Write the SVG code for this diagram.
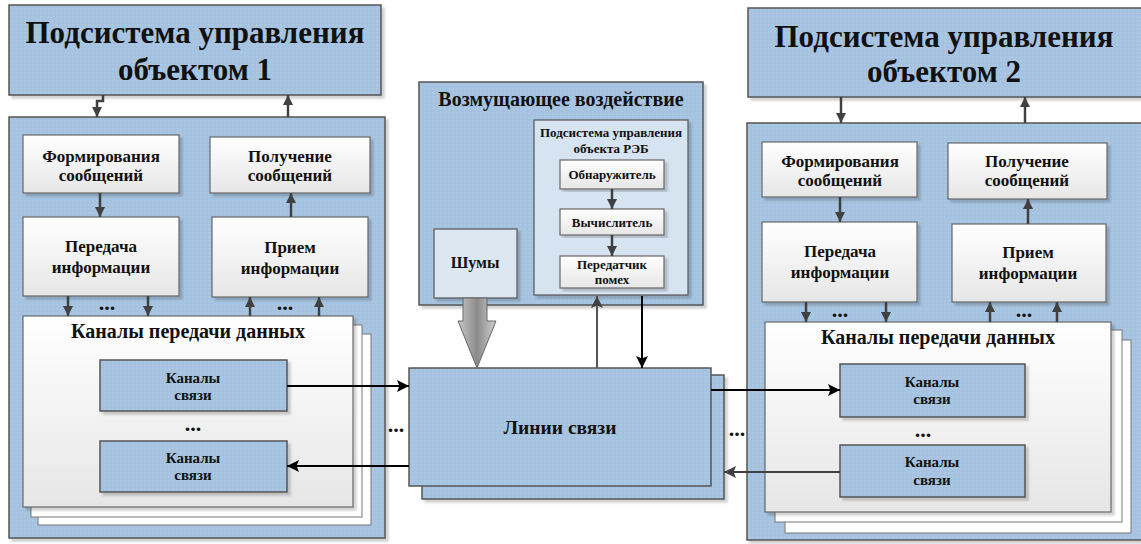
<svg xmlns="http://www.w3.org/2000/svg" width="1141" height="544" viewBox="0 0 1141 544">
<defs>
<filter id="sh" x="-5%" y="-5%" width="115%" height="115%">
<feDropShadow dx="3" dy="3" stdDeviation="1" flood-color="#000" flood-opacity="0.18"/>
</filter>
<linearGradient id="wg" x1="0" y1="0" x2="0" y2="1">
<stop offset="0" stop-color="#ffffff"/>
<stop offset="1" stop-color="#e6e6e6"/>
</linearGradient>
<linearGradient id="ga" x1="0" y1="0" x2="1" y2="0">
<stop offset="0" stop-color="#c8c8c8"/>
<stop offset="0.5" stop-color="#8a8a8a"/>
<stop offset="1" stop-color="#d0d0d0"/>
</linearGradient>
<pattern id="dots" width="4" height="4" patternUnits="userSpaceOnUse">
<rect width="4" height="4" fill="#a5c3e0"/>
<circle cx="1" cy="1" r="0.8" fill="#b3cde6"/>
</pattern>
<marker id="ag" viewBox="0 0 10 10" refX="10" refY="5" markerWidth="10" markerHeight="10" markerUnits="userSpaceOnUse" orient="auto">
<path d="M0,0 L10,5 L0,10 Z" fill="#404040"/>
</marker>
<marker id="ab" viewBox="0 0 10 10" refX="10" refY="5" markerWidth="13" markerHeight="12" markerUnits="userSpaceOnUse" orient="auto">
<path d="M0,0 L10,5 L0,10 L2,5 Z" fill="#000"/>
</marker>
<marker id="ab2" viewBox="0 0 10 10" refX="10" refY="5" markerWidth="13" markerHeight="12" markerUnits="userSpaceOnUse" orient="auto">
<path d="M0,0 L10,5 L0,10 L2,5 Z" fill="#404040"/>
</marker>
</defs>
<style>
.blue{fill:url(#dots);stroke:#555;stroke-width:1.5}
.white{fill:url(#wg);stroke:#666;stroke-width:1.2}
.plain{fill:#fff;stroke:#777;stroke-width:1}
.light{fill:#d6e3f0;stroke:#555;stroke-width:1.2}
.lighter{fill:#dce7f2;stroke:#555;stroke-width:1.2}
text{font-family:"Liberation Serif","Times New Roman",serif;font-weight:bold;fill:#111;text-anchor:middle}
.t30{font-size:31px}
.t18{font-size:20px}
.t19{font-size:19.5px}
.t17{font-size:20px}
.t15{font-size:17px}
.t16{font-size:16px}
.t13{font-size:15px}
.t12{font-size:13px}
.dot{font-size:22px}
.cg{stroke:#404040;stroke-width:2.5;fill:none}
.cb{stroke:#000;stroke-width:2;fill:none}
</style>

<g id="sys1-head">
<rect x="9" y="5" width="372" height="90" class="blue" filter="url(#sh)"/>
<text class="t30" x="195" y="43">Подсистема управления</text>
<text class="t30" x="195" y="80">объектом 1</text>
</g>

<g id="sys1">
<rect x="9" y="117" width="376" height="421" class="blue" filter="url(#sh)"/>
</g>
<g id="form1">
<rect x="23" y="135" width="156" height="58" class="white" filter="url(#sh)"/>
<text class="t15" x="101" y="162">Формирования</text>
<text class="t15" x="101" y="181">сообщений</text>
</g>
<g id="recv1">
<rect x="210" y="137" width="160" height="56" class="white" filter="url(#sh)"/>
<text class="t15" x="290" y="162">Получение</text>
<text class="t15" x="290" y="181">сообщений</text>
</g>
<g id="tx1">
<rect x="23" y="217" width="156" height="79" class="white" filter="url(#sh)"/>
<text class="t15" x="101" y="252">Передача</text>
<text class="t15" x="101" y="273">информации</text>
</g>
<g id="rx1">
<rect x="212" y="217" width="156" height="80" class="white" filter="url(#sh)"/>
<text class="t15" x="290" y="253">Прием</text>
<text class="t15" x="290" y="274">информации</text>
</g>
<g id="chan1">
<rect x="38" y="334" width="333" height="191" class="plain"/>
<rect x="31" y="325" width="331" height="192" class="plain"/>
<rect x="23" y="316" width="330" height="191" class="white" filter="url(#sh)"/>
<text class="t18" x="188" y="338">Каналы передачи данных</text>
</g>
<g id="link1a">
<rect x="100" y="360" width="187" height="51" class="blue" filter="url(#sh)"/>
<text class="t13" x="193" y="383">Каналы</text>
<text class="t13" x="193" y="400">связи</text>
</g>
<g id="link1b">
<rect x="100" y="441" width="187" height="51" class="blue" filter="url(#sh)"/>
<text class="t13" x="193" y="463">Каналы</text>
<text class="t13" x="193" y="480">связи</text>
</g>
<text class="dot" x="107" y="310">...</text>
<text class="dot" x="285" y="310">...</text>
<text class="dot" x="193" y="431">...</text>

<g id="dist">
<rect x="419" y="82" width="284" height="223" class="blue" filter="url(#sh)"/>
<text class="t17" x="561" y="106">Возмущающее воздействие</text>
</g>
<g id="noise">
<rect x="434" y="229" width="83" height="69" class="lighter" filter="url(#sh)"/>
<text class="t16" x="475" y="268">Шумы</text>
</g>
<g id="reb">
<rect x="534" y="120" width="154" height="175" class="light" filter="url(#sh)"/>
<text class="t12" x="611" y="137">Подсистема управления</text>
<text class="t12" x="611" y="153">объекта РЭБ</text>
</g>
<g id="det">
<rect x="560" y="160" width="104" height="29" class="white" filter="url(#sh)"/>
<text class="t12" x="612" y="179">Обнаружитель</text>
</g>
<g id="calc">
<rect x="560" y="209" width="104" height="26" class="white" filter="url(#sh)"/>
<text class="t12" x="612" y="227">Вычислитель</text>
</g>
<g id="jam">
<rect x="560" y="256" width="104" height="32" class="white" filter="url(#sh)"/>
<text class="t12" x="612" y="269">Передатчик</text>
<text class="t12" x="612" y="284">помех</text>
</g>

<g id="lines">
<rect x="422" y="375" width="302" height="124" class="blue" filter="url(#sh)"/>
<rect x="409" y="368" width="302" height="118" class="blue"/>
<text class="t19" x="560" y="434">Линии связи</text>
</g>
<text class="dot" x="396" y="432">...</text>
<text class="dot" x="737" y="436">...</text>

<g id="sys2-head">
<rect x="748" y="8" width="400" height="89" class="blue" filter="url(#sh)"/>
<text class="t30" x="944" y="47">Подсистема управления</text>
<text class="t30" x="944" y="82">объектом 2</text>
</g>
<g id="sys2">
<rect x="747" y="123" width="400" height="417" class="blue" filter="url(#sh)"/>
</g>
<g id="form2">
<rect x="762" y="142" width="155" height="55" class="white" filter="url(#sh)"/>
<text class="t15" x="840" y="167">Формирования</text>
<text class="t15" x="840" y="186">сообщений</text>
</g>
<g id="recv2">
<rect x="948" y="143" width="159" height="56" class="white" filter="url(#sh)"/>
<text class="t15" x="1027" y="167">Получение</text>
<text class="t15" x="1027" y="186">сообщений</text>
</g>
<g id="tx2">
<rect x="762" y="222" width="155" height="80" class="white" filter="url(#sh)"/>
<text class="t15" x="840" y="257">Передача</text>
<text class="t15" x="840" y="278">информации</text>
</g>
<g id="rx2">
<rect x="952" y="224" width="154" height="78" class="white" filter="url(#sh)"/>
<text class="t15" x="1028" y="258">Прием</text>
<text class="t15" x="1028" y="279">информации</text>
</g>
<g id="chan2">
<rect x="785" y="340" width="346" height="193" class="plain"/>
<rect x="775" y="330" width="347" height="192" class="plain"/>
<rect x="765" y="322" width="346" height="190" class="white" filter="url(#sh)"/>
<text class="t18" x="938" y="344">Каналы передачи данных</text>
</g>
<g id="link2a">
<rect x="840" y="364" width="185" height="53" class="blue" filter="url(#sh)"/>
<text class="t13" x="932" y="387">Каналы</text>
<text class="t13" x="932" y="404">связи</text>
</g>
<g id="link2b">
<rect x="840" y="445" width="185" height="52" class="blue" filter="url(#sh)"/>
<text class="t13" x="932" y="467">Каналы</text>
<text class="t13" x="932" y="485">связи</text>
</g>
<text class="dot" x="840" y="317">...</text>
<text class="dot" x="1024" y="317">...</text>
<text class="dot" x="923" y="437">...</text>

<g id="connectors">
<path class="cg" d="M103,95 V101 H97 V117" marker-end="url(#ag)"/>
<path class="cg" d="M288,117 V95" marker-end="url(#ag)"/>
<path class="cg" d="M100,193 V217" marker-end="url(#ag)"/>
<path class="cg" d="M291,217 V193" marker-end="url(#ag)"/>
<path class="cg" d="M68,296 V316" marker-end="url(#ag)"/>
<path class="cg" d="M148,296 V316" marker-end="url(#ag)"/>
<path class="cg" d="M250,316 V297" marker-end="url(#ag)"/>
<path class="cg" d="M319,316 V297" marker-end="url(#ag)"/>
<path class="cb" d="M287,386 H409" marker-end="url(#ab)"/>
<path class="cb" d="M409,466 H287" marker-end="url(#ab)"/>
<path class="cg" d="M612,189 V209" marker-end="url(#ag)"/>
<path class="cg" d="M612,235 V256" marker-end="url(#ag)"/>
<path d="M463,298 H487 V321 H496 L477,368 L458,321 H463 Z" fill="url(#ga)" stroke="#666" stroke-width="1"/>
<path d="M597,368 V296" stroke="#555" stroke-width="2" fill="none" marker-end="url(#ab2)"/>
<path class="cb" d="M642,296 V368" marker-end="url(#ab)"/>
<path class="cb" d="M711,390 H840" marker-end="url(#ab)"/>
<path d="M840,472 H724" stroke="#404040" stroke-width="2" fill="none" marker-end="url(#ab2)"/>
<path class="cg" d="M841,97 V123" marker-end="url(#ag)"/>
<path class="cg" d="M1025,123 V97" marker-end="url(#ag)"/>
<path class="cg" d="M840,197 V222" marker-end="url(#ag)"/>
<path class="cg" d="M1028,224 V199" marker-end="url(#ag)"/>
<path class="cg" d="M806,302 V322" marker-end="url(#ag)"/>
<path class="cg" d="M886,302 V322" marker-end="url(#ag)"/>
<path class="cg" d="M990,322 V302" marker-end="url(#ag)"/>
<path class="cg" d="M1057,322 V302" marker-end="url(#ag)"/>
</g>
</svg>
